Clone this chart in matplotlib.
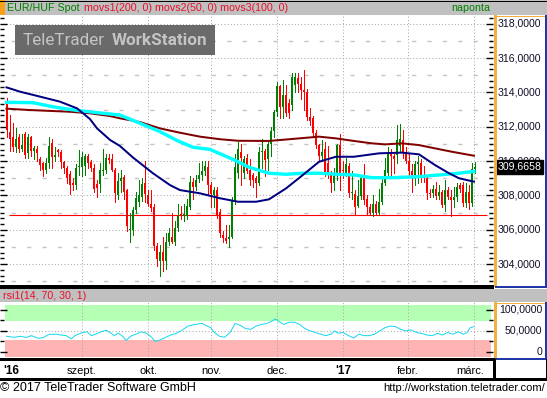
import matplotlib
matplotlib.use("Agg")
import matplotlib.pyplot as plt
import matplotlib.transforms as mtransforms
from matplotlib.patches import Rectangle
from matplotlib.ticker import MultipleLocator

# ---------------- data ----------------
opens = [313.38, 311.71, 311.40, 310.83, 311.40, 310.70, 311.60, 310.45, 311.40, 310.60,
         310.70, 310.10, 309.87, 309.50, 309.90, 311.07, 310.25, 310.64, 310.50, 309.96,
         309.57, 309.24, 308.75, 308.60, 309.65, 309.67, 309.70, 310.29, 309.96, 309.60,
         308.66, 308.66, 309.40, 309.47, 310.20, 310.10, 309.50, 308.00, 308.85, 309.05,
         308.30, 306.00, 306.00, 307.15, 307.60, 307.90, 308.75, 308.00, 307.50, 307.35,
         305.05, 304.20, 304.70, 304.20, 305.30, 305.60, 305.30, 306.10, 306.90, 306.80,
         306.80, 307.35, 308.80, 308.50, 308.93, 309.20, 309.40, 309.65, 308.60, 308.00,
         308.30, 307.05, 305.70, 305.50, 305.45, 305.55, 307.73, 309.28, 310.50, 309.30,
         310.20, 309.50, 309.20, 309.00, 308.70, 310.50, 310.60, 310.10, 311.00, 311.77,
         312.87, 314.37, 313.17, 313.85, 313.36, 313.26, 314.43, 314.82, 314.49, 314.14,
         314.00, 312.58, 312.50, 311.65, 310.93, 310.30, 310.68, 309.90, 309.30, 308.75,
         309.10, 310.93, 309.50, 309.30, 309.70, 308.12, 308.10, 307.40, 307.95, 309.00,
         307.80, 307.33, 307.00, 307.50, 307.00, 307.60, 308.75, 309.30, 310.45, 310.30,
         310.35, 310.87, 311.20, 310.45, 310.00, 309.40, 309.20, 309.85, 309.90, 309.20,
         309.00, 308.15, 308.15, 308.37, 307.96, 308.20, 307.43, 308.30, 307.88, 307.73,
         307.88, 308.60, 308.60, 307.57, 308.20, 307.57, 309.55]
highs = [313.65, 312.68, 312.20, 311.90, 311.60, 311.60, 311.70, 311.60, 311.45, 310.90,
         310.90, 310.25, 309.95, 310.20, 311.40, 311.30, 310.80, 310.70, 310.64, 310.00,
         309.70, 309.40, 309.00, 309.80, 310.63, 310.50, 310.40, 310.40, 310.05, 309.80,
         308.90, 309.90, 310.70, 310.40, 310.40, 310.40, 309.60, 309.30, 309.50, 309.20,
         308.40, 307.00, 307.30, 308.20, 308.90, 309.00, 310.00, 308.30, 308.30, 307.50,
         305.20, 305.10, 305.60, 305.80, 306.10, 307.00, 306.50, 307.50, 307.40, 307.50,
         307.80, 309.10, 309.00, 309.20, 309.90, 310.00, 310.00, 310.00, 308.80, 308.50,
         308.50, 307.20, 305.90, 306.30, 306.30, 307.90, 310.40, 311.10, 311.00, 310.30,
         310.40, 310.10, 309.30, 309.10, 310.80, 311.30, 310.70, 311.20, 312.00, 313.00,
         314.60, 314.40, 314.70, 314.40, 313.60, 315.10, 315.15, 315.10, 314.90, 315.30,
         314.20, 313.10, 312.60, 311.80, 311.00, 311.20, 311.10, 310.90, 309.40, 309.60,
         311.00, 311.60, 310.00, 310.20, 309.90, 309.40, 308.30, 308.90, 309.20, 309.85,
         308.00, 307.50, 308.00, 307.70, 308.40, 309.00, 310.20, 310.80, 310.70, 310.40,
         312.10, 312.15, 311.80, 310.80, 310.40, 309.80, 310.00, 310.30, 310.10, 309.70,
         309.20, 308.40, 308.60, 308.80, 308.60, 308.30, 308.90, 308.50, 308.30, 308.50,
         308.70, 308.70, 308.80, 308.70, 308.60, 309.90, 309.95]
lows = [311.40, 310.60, 310.60, 310.50, 310.50, 310.60, 310.20, 310.20, 310.30, 310.10,
        310.00, 309.50, 309.10, 309.30, 309.60, 309.60, 310.00, 310.30, 309.60, 309.30,
        308.70, 308.10, 308.30, 308.40, 309.20, 309.10, 309.20, 309.60, 309.40, 308.20,
        307.90, 308.20, 309.20, 309.30, 309.90, 309.40, 307.60, 307.80, 308.20, 307.80,
        305.90, 305.30, 305.70, 307.00, 307.40, 307.70, 307.60, 307.40, 307.10, 304.80,
        303.90, 303.30, 303.60, 303.70, 305.10, 305.20, 305.10, 305.90, 306.60, 306.50,
        306.60, 307.20, 307.80, 308.30, 308.80, 308.90, 309.20, 308.10, 307.30, 307.30,
        306.70, 305.60, 305.30, 305.20, 305.00, 305.50, 307.50, 309.00, 308.60, 309.00,
        309.30, 308.60, 308.50, 307.90, 308.60, 309.60, 309.10, 309.50, 310.30, 311.40,
        312.60, 312.50, 312.50, 312.60, 312.50, 313.00, 314.00, 314.00, 313.60, 313.00,
        312.40, 312.10, 311.40, 310.75, 310.00, 310.00, 309.10, 309.00, 308.20, 308.30,
        308.90, 308.30, 309.00, 309.10, 307.90, 307.80, 306.90, 307.30, 307.80, 307.50,
        306.90, 306.90, 306.80, 306.90, 306.90, 307.50, 308.60, 309.10, 309.20, 309.30,
        309.90, 310.60, 310.20, 309.90, 309.20, 308.20, 308.60, 308.70, 308.80, 308.80,
        307.80, 307.90, 307.90, 307.80, 307.80, 307.30, 307.10, 307.80, 306.80, 307.30,
        307.70, 308.20, 307.40, 307.30, 307.20, 307.40, 309.30]
closes = [311.81, 311.26, 310.83, 311.30, 310.70, 310.93, 310.35, 311.40, 310.60, 310.75,
          310.45, 309.77, 309.50, 309.90, 310.87, 310.25, 310.35, 310.50, 309.96, 309.57,
          308.99, 308.60, 308.60, 309.57, 309.72, 310.25, 310.29, 309.90, 309.60, 308.40,
          308.45, 309.47, 309.50, 310.16, 310.06, 309.50, 308.15, 308.85, 309.00, 308.20,
          306.20, 306.05, 307.15, 307.83, 308.00, 308.66, 308.10, 307.50, 307.25, 305.05,
          304.27, 304.70, 304.20, 305.30, 305.80, 305.30, 306.10, 306.80, 306.80, 306.90,
          307.40, 308.80, 308.50, 308.90, 309.18, 309.40, 309.70, 308.60, 308.10, 308.30,
          306.85, 305.80, 305.50, 305.35, 305.60, 307.73, 309.67, 310.68, 310.15, 310.10,
          309.40, 308.90, 308.90, 308.70, 310.50, 310.60, 310.05, 311.00, 311.77, 312.87,
          314.37, 313.17, 313.85, 312.78, 312.80, 314.87, 314.87, 314.49, 314.14, 314.03,
          312.58, 312.35, 311.65, 310.93, 310.30, 310.55, 309.38, 309.30, 308.75, 309.10,
          310.93, 309.32, 309.40, 309.80, 308.12, 308.15, 307.35, 307.95, 309.00, 307.76,
          307.33, 306.95, 307.50, 307.00, 307.60, 308.75, 309.50, 310.45, 310.30, 310.10,
          311.20, 311.26, 310.55, 310.00, 309.40, 309.20, 309.85, 309.95, 309.20, 309.00,
          308.15, 308.10, 308.37, 307.96, 308.20, 307.43, 308.30, 307.88, 307.73, 307.88,
          308.50, 308.40, 307.57, 308.20, 307.57, 309.55, 309.67]

# moving averages (candle index, value)
ma200_x = [0, 7.8, 21.2, 27.8, 34.5, 37.8, 44.5, 51.2, 57.8, 64.5, 71.2, 77.2, 87.5, 94.2,
           104.2, 109.8, 115.8, 121.8, 126.2, 131.8, 137.5, 142.8, 148.5, 155.8]
ma200 = [313.05, 312.97, 312.87, 312.78, 312.62, 312.49, 312.27, 311.90, 311.65, 311.42,
         311.27, 311.18, 311.17, 311.27, 311.42, 311.32, 311.17, 311.03, 310.97, 311.03,
         310.93, 310.74, 310.54, 310.31]
ma50_x = [0, 4.5, 11.2, 17.8, 23.5, 27.8, 30.2, 34.5, 37.8, 42.2, 48.8, 54.5, 57.8, 64.5,
          71.2, 77.2, 83.2, 87.5, 93.2, 98.8, 104.2, 109.8, 115.8, 124.2, 131.8, 137.5,
          142.8, 147.5, 150.8, 155.8]
ma50 = [314.29, 314.04, 313.75, 313.46, 313.07, 312.45, 311.90, 311.23, 310.88, 310.20,
        309.29, 308.60, 308.31, 308.12, 307.83, 307.63, 307.63, 307.77, 308.41, 309.19,
        309.96, 310.25, 310.25, 310.45, 310.49, 310.39, 309.77, 309.29, 309.00, 308.80]
ma100_x = [0, 8.8, 15.5, 20.2, 24.5, 31.2, 37.8, 44.5, 51.2, 56.8, 62.2, 67.8, 73.5, 77.2,
           80.8, 87.5, 93.2, 98.8, 104.2, 109.8, 115.8, 121.8, 128.5, 137.5, 144.2, 150.8,
           155.8]
ma100 = [313.42, 313.40, 313.16, 313.03, 312.93, 312.80, 312.68, 312.20, 311.71, 311.20,
         310.80, 310.68, 310.25, 309.96, 309.64, 309.29, 309.23, 309.29, 309.29, 309.23,
         309.19, 309.03, 309.03, 309.09, 309.19, 309.29, 309.40]

rsi_x = [0, 2.5, 4.8, 6.5, 8.3, 10.6, 12.3, 14.1, 16.4, 18.2, 19.9, 21.6, 22.8, 25.4, 26.9,
         28.3, 29.8, 31.5, 33.3, 34.8, 35.9, 37.3, 38.7, 39.9, 41.4, 43.1, 44.9, 46.6, 48.4,
         49.5, 51.3, 53.0, 54.7, 56.5, 58.2, 60.5, 62.9, 65.2, 66.9, 68.1, 69.3, 71.0, 72.7,
         74.5, 76.2, 78.0, 79.7, 81.5, 83.2, 85.0, 86.7, 88.4, 89.6, 90.7, 92.5, 94.2, 96.0,
         97.7, 99.5, 101.2, 102.9, 104.7, 106.4, 108.2, 109.3, 110.5, 112.2, 114.0, 115.7,
         117.5, 119.2, 121.0, 122.7, 124.4, 126.2, 127.9, 129.7, 131.4, 133.1, 134.9, 136.6,
         138.4, 140.1, 141.9, 143.6, 145.3, 147.1, 148.8, 150.6, 152.3, 153.5, 154.6, 155.8]
rsi = [37, 34.6, 37, 34, 38.5, 32, 34, 41.5, 42, 40, 38.5, 30.8, 38.5, 46, 47.7,
       38.5, 42, 47.7, 51.5, 44.6, 38.5, 44.6, 37, 27, 37, 42, 47.7, 44.6, 34.6,
       24.6, 28.5, 34, 40, 43.8, 50, 61.5, 65.4, 67.7, 61.5, 57.7, 46, 37, 34.6,
       46, 67.7, 63, 55.4, 53.8, 61.5, 65.4, 67.7, 73, 78.5, 73, 65.4, 70.8, 70.8,
       65.4, 55.4, 50, 46, 42, 38.5, 42, 50, 44.6, 46, 38.5, 33,
       42, 38.5, 38.5, 42, 50, 57.7, 61.5, 60, 53.8, 50, 52.3, 46,
       43.8, 40, 38.5, 43.8, 40, 46, 42, 47.7, 42, 46, 57.7, 60]

support_level = 306.84
support_span = [0.8, 160.2]
last_price = 309.6658
price_ticks = [304, 306, 308, 310, 312, 314, 316, 318]
price_halfs = [303, 305, 307, 309, 311, 313, 315, 317]
rsi_ticks = [0, 50, 100]
rsi_upper_band = [74, 111]
rsi_lower_band = [-12, 27]
month_pos = [25.17, 47.17, 68.17, 90.17, 112.17, 133.83, 155.83]
month_labels = ["szept.", "okt.", "nov.", "dec.", "'17", "febr.", "márc."]
year_labels = ["'16", "'17"]

# ---------------- layout helpers ----------------
W, H = 547, 398
fig = plt.figure(figsize=(W / 100, H / 100), dpi=100)
fig.patch.set_facecolor("white")


def px_axes(x0, y0, x1, y1, z=1):
    return fig.add_axes([x0 / W, 1 - y1 / H, (x1 - x0) / W, (y1 - y0) / H], zorder=z)


def to_idx(px):
    return (px - 6.5) / 3.0


SANS = ["Liberation Sans", "DejaVu Sans"]
GREEN = "#008000"
RED = "#ff0000"
GRID = "#a8a8a8"
PX = 0.72  # one pixel in points

# ---------------- main price panel ----------------
ax = px_axes(0, 15, 493, 286, z=2)
ax.set_facecolor("white")
ax.set_xlim(to_idx(0), to_idx(493))
ax.set_ylim(312 - (286 - 126.7) / 17.17, 312 - (15 - 126.7) / 17.17)
for s in ax.spines.values():
    s.set_visible(False)
ax.set_xticks([])
ax.set_yticks(price_ticks)
ax.yaxis.set_minor_locator(MultipleLocator(1 / 3))
ax.tick_params(axis="y", which="major", direction="in", left=True, right=True,
               labelleft=False, labelright=False, length=5, width=1, color="black")
ax.tick_params(axis="y", which="minor", direction="in", left=True, right=True,
               length=3, width=1, color="black")

for v in price_ticks:
    ax.axhline(v, color=GRID, lw=PX, ls=(0, (1, 2.2)), zorder=0.5)
for v in price_halfs:
    ax.axhline(v, color="#c4c4c4", lw=1.4 * PX, ls=(3, (3, 8)), zorder=0.5)
for m in month_pos:
    ax.axvline(m, color=GRID, lw=PX, ls=(0, (1, 2.2)), zorder=0.5)

ax.hlines(support_level, support_span[0], support_span[1], color=RED, lw=1.1 * PX, zorder=1)

for i, (o, h, l, c) in enumerate(zip(opens, highs, lows, closes)):
    col = GREEN if c >= o else RED
    ax.vlines(i, l, h, color=col, lw=PX, antialiased=False, zorder=2)
    lo, hi = min(o, c), max(o, c)
    if hi - lo < 0.06:
        hi = lo + 0.06
    ax.vlines(i, lo, hi, color=col, lw=2 * PX, antialiased=False, zorder=2.1)

ax.plot(ma200_x, ma200, color="#800000", lw=2 * PX, zorder=3)
ax.plot(ma100_x, ma100, color="#00ffff", lw=3.4 * PX, zorder=3.1)
ax.plot(ma50_x, ma50, color="#000080", lw=2 * PX, zorder=3.2)

tr_main = mtransforms.blended_transform_factory(ax.transAxes, ax.transData)
for v in price_ticks:
    ax.text(541 / 493, v, f"{v:.4f}".replace(".", ","), transform=tr_main, ha="right",
            va="center", fontsize=7.6, family=SANS, color="#101028", clip_on=False)
ax.text(519.5 / 493, last_price, f"{last_price:.4f}".replace(".", ","), transform=tr_main,
        ha="center", va="center", fontsize=7.6, family=SANS, color="white", clip_on=False,
        zorder=20,
        bbox=dict(boxstyle="square,pad=0.18", fc="black", ec="black"))

# ---------------- RSI panel ----------------
axr = px_axes(0, 302, 493, 358, z=2)
axr.set_facecolor("white")
axr.set_xlim(to_idx(0), to_idx(493))
axr.set_ylim((351.7 - 358) / 0.417, (351.7 - 302) / 0.417)
for s in axr.spines.values():
    s.set_visible(False)
axr.set_xticks([])
axr.set_yticks(rsi_ticks)
axr.yaxis.set_minor_locator(MultipleLocator(25))
axr.tick_params(axis="y", which="major", direction="in", left=True, right=True,
                labelleft=False, labelright=False, length=5, width=1, color="black")
axr.tick_params(axis="y", which="minor", direction="in", left=True, right=True,
                length=3, width=1, color="black")
bx0, bx1 = to_idx(5), to_idx(491)
axr.fill_between([bx0, bx1], rsi_upper_band[0], rsi_upper_band[1], color="#b4ffb4", lw=0, zorder=0.2)
axr.fill_between([bx0, bx1], rsi_lower_band[0], rsi_lower_band[1], color="#ffb4b4", lw=0, zorder=0.2)
axr.axhline(50, color=GRID, lw=PX, ls=(0, (1, 2.2)), zorder=0.5)
for m in month_pos:
    axr.axvline(m, color=GRID, lw=PX, ls=(0, (1, 2.2)), zorder=0.5)
axr.plot(rsi_x, rsi, color="#18d8f0", lw=1.0 * PX, zorder=3)
tr_rsi = mtransforms.blended_transform_factory(axr.transAxes, axr.transData)
for v in rsi_ticks:
    lab = "0" if v == 0 else f"{v:.4f}".replace(".", ",")
    axr.text(542 / 493, v, lab, transform=tr_rsi, ha="right", va="center", fontsize=7.6,
             family=SANS, color="#101028", clip_on=False)

# ---------------- overlay chrome ----------------
ov = px_axes(0, 0, W, H, z=10)
ov.set_xlim(0, W)
ov.set_ylim(H, 0)
ov.axis("off")
ov.patch.set_visible(False)


def rect(x, y, w, h, fc, ec="none", lw=0):
    ov.add_patch(Rectangle((x, y), w, h, facecolor=fc, edgecolor=ec, lw=lw))


def line(x0, y0, x1, y1, color, lw=1.0):
    ov.plot([x0, x1], [y0, y1], color=color, lw=lw * PX, solid_capstyle="butt",
            antialiased=False)


ORANGE = "#f2b040"
BLUE = "#2038a8"

# header bar
rect(0, 0, W, 14.5, "#c0c0c0")
line(0, 0.5, W, 0.5, "black")
rect(0, 0, 5, 14.5, "#f5a21a")
ov.text(7, 7.6, "EUR/HUF Spot", color=GREEN, fontsize=7.7, family=SANS, va="center", ha="left")
ov.text(84.5, 7.6, "movs1(200, 0) movs2(50, 0) movs3(100, 0)", color="#e8102a", fontsize=7.7,
        family=SANS, va="center", ha="left")
ov.text(490.5, 8, "naponta", color=GREEN, fontsize=7.7, family=SANS, va="center", ha="right")

# watermark
WM_FONT = ["Roboto", "DejaVu Sans"]
rect(15, 25, 200, 30, "#6a6a6a")
ov.text(23, 40.5, "TeleTrader", color="#c4c4c4", fontsize=12.3, family=WM_FONT,
        va="center", ha="left")
ov.text(207, 40.5, "WorkStation", color="#c4c4c4", fontsize=12.3, fontweight="bold",
        family=WM_FONT, va="center", ha="right")

# right box of price panel
line(495, 15, 495, 286, ORANGE, 1.3)
line(495, 15.5, W, 15.5, ORANGE, 1.0)
line(546, 15, 546, 287, BLUE, 1.5)
line(495, 286.5, W, 286.5, BLUE, 1.5)
# separator under price panel
line(0, 287.3, 494, 287.3, "black", 2.4)

# RSI header
rect(0, 289, W, 13, "#c0c0c0")
ov.text(3, 296, "rsi1(14, 70, 30, 1)", color="#e8102a", fontsize=7.7, family=SANS, va="center", ha="left")

# right box of RSI panel
line(495, 302, 495, 358, ORANGE, 1.3)
line(495, 302.5, W, 302.5, ORANGE, 1.0)
line(546, 302, 546, 359, BLUE, 1.5)
line(495, 358.5, W, 358.5, BLUE, 1.5)
line(0, 359.2, 494, 359.2, "black", 1.4)

# date axis
line(0, 378.6, W, 378.6, "black", 1.4)
line(494.3, 359, 494.3, 379, "black", 1.4)
line(546.3, 359, 546.3, 379, "black", 1.0)
ov.text(3, 370.5, year_labels[0], fontsize=8.5, fontweight="bold", family=SANS, va="center", ha="left")
for m, lab in zip(month_pos, month_labels):
    px = 6.5 + 3 * m
    if lab == "márc.":
        px -= 4
    bold = lab in year_labels
    ov.text(px, 370.5, lab, fontsize=8.5 if bold else 8, fontweight="bold" if bold else "normal",
            family=SANS, va="center", ha="center")

# footer
ov.text(0, 388, "© 2017 TeleTrader Software GmbH", fontsize=9, family=SANS, va="center", ha="left")
ov.text(545, 388, "http://workstation.teletrader.com/", fontsize=8, family=SANS, va="center", ha="right")

fig.savefig("out.png", dpi=100)
